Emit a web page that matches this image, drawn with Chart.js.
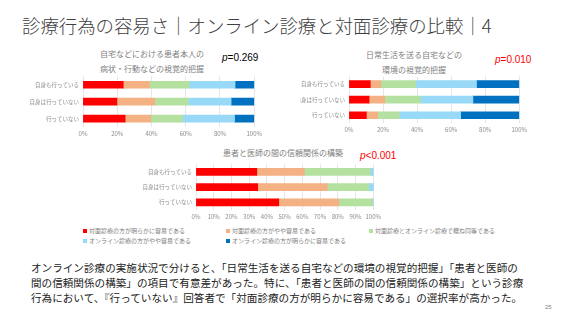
<!DOCTYPE html>
<html><head><meta charset="utf-8">
<script src="https://cdn.jsdelivr.net/npm/chart.js@4/dist/chart.umd.min.js"></script>
<style>
html,body{margin:0;padding:0;background:#fff;}
body{width:569px;height:320px;position:relative;overflow:hidden;font-family:"Noto Sans CJK JP","Noto Sans",sans-serif;}
.abs{position:absolute;white-space:nowrap;}
canvas{position:absolute;}
#title{left:22px;top:12px;font-size:18.4px;line-height:26px;color:#404040;font-weight:300;}
.ct{font-size:8px;line-height:15px;color:#7f7f7f;text-align:center;}
.pv{font-family:"Liberation Sans",Arial,sans-serif;font-size:10px;line-height:11px;}
.pv i{font-style:italic;}
.leg{font-size:6px;line-height:8px;color:#808080;}
.leg span.m{display:inline-block;width:4px;height:4px;margin-right:2px;vertical-align:0px;}
#para{left:31px;top:260px;font-size:10.6px;line-height:15.2px;color:#222;}
#pg{left:545px;top:304px;font-size:6px;color:#808080;font-family:"Liberation Sans",sans-serif;}
</style></head>
<body>
<div id="title" class="abs">診療行為の容易さ｜オンライン診療と対面診療の比較｜4</div>

<div class="abs ct" style="left:92px;top:46px;width:120px;">自宅などにおける患者本人の<br>病状・行動などの視覚的把握</div>
<div class="abs pv" style="left:222px;top:52px;color:#000;"><i>p</i>=0.269</div>

<div class="abs ct" style="left:354px;top:47px;width:120px;">日常生活を送る自宅などの<br>環境の視覚的把握</div>
<div class="abs pv" style="left:495px;top:54px;color:#ff0000;"><i>p</i>=0.010</div>

<div class="abs ct" style="left:213px;top:145px;width:140px;">患者と医師の間の信頼関係の構築</div>
<div class="abs pv" style="left:360px;top:150px;color:#ff0000;"><i>p</i>&lt;0.001</div>

<canvas id="c1" width="265" height="70" style="left:0px;top:69px;width:265px;height:70px;"></canvas>
<canvas id="c2" width="230" height="66" style="left:300px;top:69px;width:230px;height:66px;"></canvas>
<canvas id="c3" width="264" height="65" style="left:120px;top:157px;width:264px;height:65px;"></canvas>

<div id="legend"></div>

<div id="para" class="abs">オンライン診療の実施状況で分けると、「日常生活を送る自宅などの環境の視覚的把握」「患者と医師の<br>間の信頼関係の構築」の項目で有意差があった。特に、「患者と医師の間の信頼関係の構築」という診療<br>行為において、『行っていない』回答者で「対面診療の方が明らかに容易である」の選択率が高かった。</div>
<div id="pg" class="abs">25</div>

<script>
// Categories and series
const categories = ['自身も行っている', '自身は行っていない', '行っていない'];
const seriesNames = [
  '対面診療の方が明らかに容易である',
  '対面診療の方がやや容易である',
  '対面診療とオンライン診療で概ね同等である',
  'オンライン診療の方がやや容易である',
  'オンライン診療の方が明らかに容易である'
];
const seriesColors = ['#ff0000', '#f4b183', '#b4e1a0', '#97d9f7', '#0070c0'];

// Chart 1: 自宅などにおける患者本人の病状・行動などの視覚的把握 (%)
const symptom_f2fClearly  = [23.5, 19.8, 24.6];
const symptom_f2fSlightly = [15.3, 22.1, 15.0];
const symptom_equal       = [23.1, 19.6, 18.5];
const symptom_onlSlightly = [26.9, 25.0, 30.4];
const symptom_onlClearly  = [11.2, 13.5, 11.5];

// Chart 2: 日常生活を送る自宅などの環境の視覚的把握 (%)
const environ_f2fClearly  = [12.5, 11.8, 10.2];
const environ_f2fSlightly = [6.2, 9.2, 6.6];
const environ_equal       = [20.5, 20.9, 12.7];
const environ_onlSlightly = [35.7, 30.9, 36.1];
const environ_onlClearly  = [25.1, 27.2, 34.4];

// Chart 3: 患者と医師の間の信頼関係の構築 (%)
const trust_f2fClearly  = [34.3, 34.8, 46.7];
const trust_f2fSlightly = [26.8, 39.3, 33.9];
const trust_equal       = [37.2, 23.3, 18.8];
const trust_onlSlightly = [1.7, 2.6, 0.6];
const trust_onlClearly  = [0, 0, 0];

const ticks20 = [0, 20, 40, 60, 80, 100];
const ticks10 = [0, 10, 20, 30, 40, 50, 60, 70, 80, 90, 100];

const JP = '"Noto Sans CJK JP", "Noto Sans", sans-serif';

function makeChart(id, seriesData, yWidth, rightPad, tickVals) {
  const ctx = document.getElementById(id);
  return new Chart(ctx, {
    type: 'bar',
    data: {
      labels: categories,
      datasets: seriesData.map((d, i) => ({
        label: seriesNames[i],
        data: d,
        backgroundColor: seriesColors[i],
        borderWidth: 0,
        barThickness: 7
      }))
    },
    options: {
      indexAxis: 'y',
      responsive: false,
      animation: false,
      maintainAspectRatio: false,
      layout: { padding: { top: 0, right: rightPad, bottom: 0, left: 0 } },
      plugins: { legend: { display: false }, tooltip: { enabled: false }, title: { display: false } },
      scales: {
        x: {
          stacked: true, min: 0, max: 100,
          afterBuildTicks: s => { s.ticks = tickVals.map(v => ({ value: v })); },
          afterFit: s => { s.height = 12; },
          ticks: { callback: v => v + '%', color: '#8c8c8c', font: { size: 6, family: JP }, padding: 3, maxRotation: 0, autoSkip: false },
          grid: { color: '#e0e0e0', lineWidth: 0.8, drawTicks: false },
          border: { display: false }
        },
        y: {
          stacked: true,
          afterFit: s => { s.width = yWidth; },
          ticks: { color: '#8c8c8c', font: { size: 5.5, family: JP }, padding: 4 },
          grid: { display: false, drawTicks: false },
          border: { display: false }
        }
      }
    }
  });
}

makeChart('c1', [symptom_f2fClearly, symptom_f2fSlightly, symptom_equal, symptom_onlSlightly, symptom_onlClearly], 83, 8, ticks20);
makeChart('c2', [environ_f2fClearly, environ_f2fSlightly, environ_equal, environ_onlSlightly, environ_onlClearly], 49, 8, ticks20);
makeChart('c3', [trust_f2fClearly, trust_f2fSlightly, trust_equal, trust_onlSlightly, trust_onlClearly], 76, 8, ticks10);

// Legend built from the series names/colors
const legPos = [[83, 227], [226, 227], [369, 227], [83, 237], [226, 237]];
const legend = document.getElementById('legend');
seriesNames.forEach((n, i) => {
  const d = document.createElement('div');
  d.className = 'abs leg';
  d.style.left = legPos[i][0] + 'px';
  d.style.top = legPos[i][1] + 'px';
  d.innerHTML = '<span class="m" style="background:' + seriesColors[i] + '"></span>' + n;
  legend.appendChild(d);
});
</script>
</body></html>
